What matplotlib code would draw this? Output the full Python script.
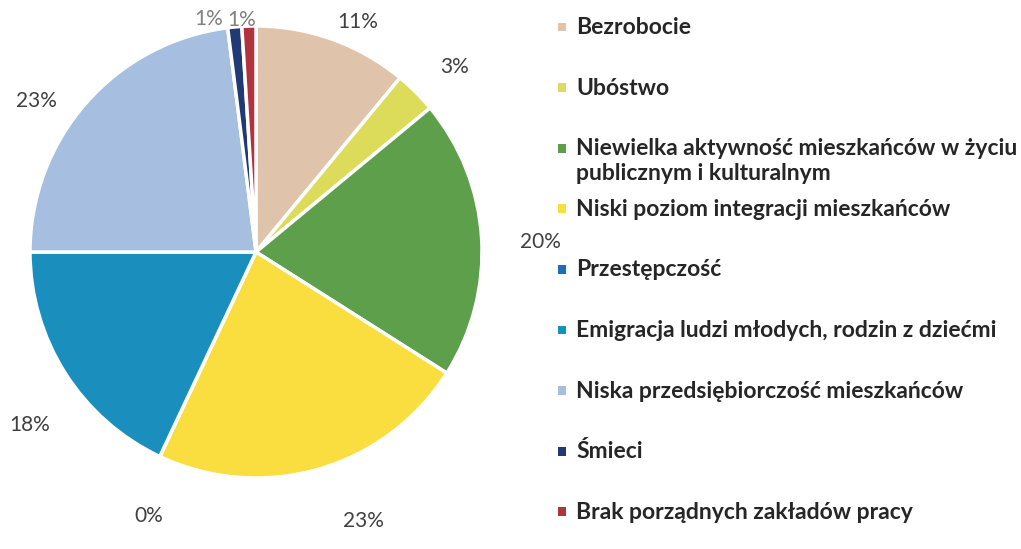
import numpy as np
import matplotlib
matplotlib.use("Agg")
import matplotlib.pyplot as plt

# data
categories = ["Bezrobocie", "Ubóstwo",
              "Niewielka aktywność mieszkańców w życiu\npublicznym i kulturalnym",
              "Niski poziom integracji mieszkańców", "Przestępczość",
              "Emigracja ludzi młodych, rodzin z dziećmi",
              "Niska przedsiębiorczość mieszkańców", "Śmieci",
              "Brak porządnych zakładów pracy"]
percent = [11, 3, 20, 23, 0, 18, 23, 1, 1]
colors = ["#DFC3AA", "#DCDC5A", "#5E9F4C", "#FADD3E", "#1F6DB5",
          "#1A8EBD", "#A6BEE0", "#213A74", "#B1333D"]

# label placement (layout only)
label_r = [1.11, 1.20, 1.26, 1.28, 1.26, 1.26, 1.18, 1.05, 1.03]
label_nudge = [-4, -2, -1.6, 5.5, 3, 5, 7, 6.0, 1.8]
label_col = ["#404040"] * 7 + ["#808080"] * 2

plt.rcParams['font.family'] = ['Lato', 'DejaVu Sans']

fig = plt.figure(figsize=(10.21, 5.49), dpi=100)
ax = fig.add_axes([30/1021, 71/549, 452/1021, 452/549])
wedges, _ = ax.pie(percent, colors=colors, startangle=90, counterclock=False,
                   wedgeprops=dict(edgecolor="white", linewidth=2.5))
ax.set_xlim(-1, 1)
ax.set_ylim(-1, 1)
ax.set_aspect("equal")

for w, p, r, d, c in zip(wedges, percent, label_r, label_nudge, label_col):
    ang = np.deg2rad((w.theta1 + w.theta2) / 2 + d)
    ax.text(r*np.cos(ang), r*np.sin(ang), f"{p}%", ha="center", va="center",
            fontsize=15, color=c, clip_on=False)

# legend drawn by hand, Excel style
lax = fig.add_axes([0, 0, 1, 1])
lax.set_xlim(0, 1021)
lax.set_ylim(549, 0)
lax.axis("off")
leg_x, leg_y0, leg_step = 562, 27, 60.6
for i, (lab, c) in enumerate(zip(categories, colors)):
    y = leg_y0 + i*leg_step
    lax.scatter([leg_x], [y], marker="s", s=40, color=c, edgecolors="none")
    lax.text(leg_x + 14, y - 10, lab, ha="left", va="top", fontsize=16.5,
             fontweight="bold", color="#262626", linespacing=1.2)

fig.savefig("out.png", dpi=100)
